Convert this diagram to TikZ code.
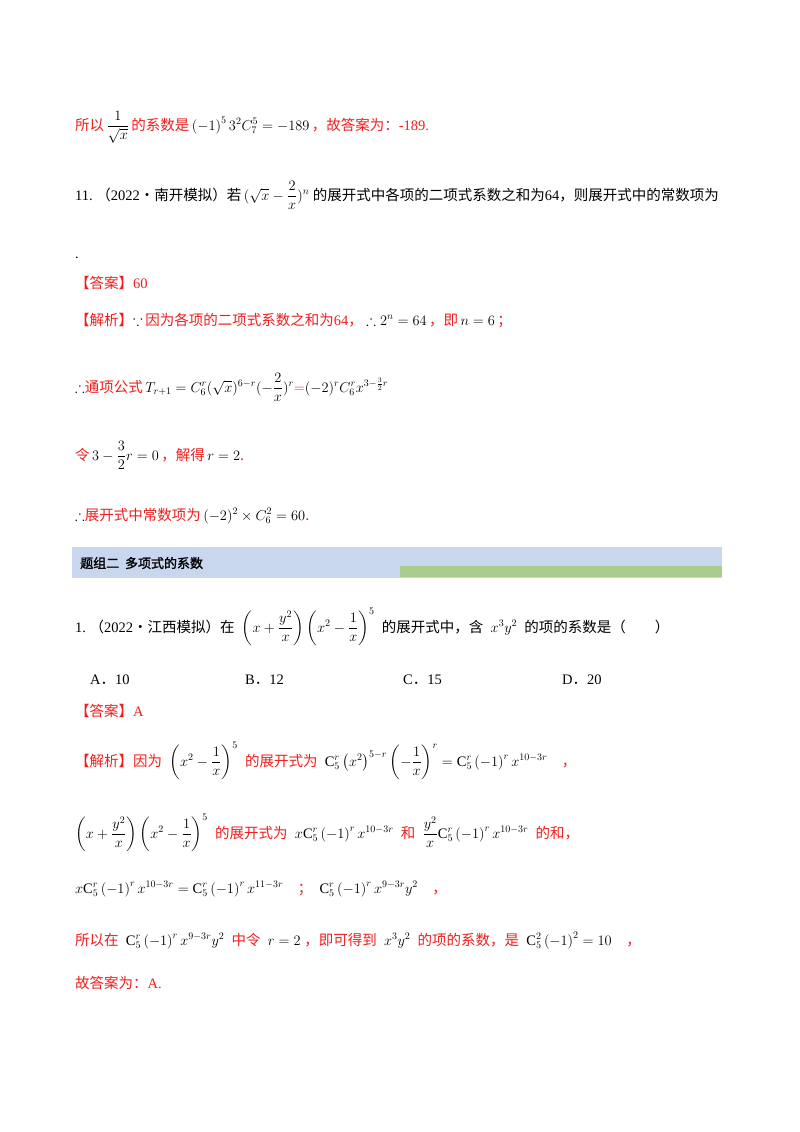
\documentclass[tikz,border=0pt]{standalone}
\usepackage{amsmath,amssymb}
\usepackage{fontspec}
\setmainfont{Liberation Serif}
\newfontfamily\cjk{Noto Sans CJK SC}
\newfontfamily\cjkb{Noto Sans CJK SC}[FakeBold=1.5]
\newcommand{\zh}[1]{{\cjk #1}}
\newcommand{\rz}[1]{{\color{myred}\cjk #1}}
\definecolor{myred}{RGB}{240,30,30}
\definecolor{band}{RGB}{200,214,238}
\definecolor{bandg}{RGB}{168,205,140}
\begin{document}
\begin{tikzpicture}[x=1pt,y=-1pt,
  line/.style={anchor=base west,inner sep=0pt,font=\fontsize{14.5}{17}\selectfont}]
\useasboundingbox (0,0) rectangle (800,1132);
\fill[white] (0,0) rectangle (800,1132);
\node[line] (l1) at (75,130) {\rz{所以}\,$\dfrac{1}{\sqrt{x}}$\,\rz{的系数是}\,$\left(-1\right)^5 3^2 C_7^5=-189$\,\rz{，故答案为：}{\color{myred}-189.}};
\node[line] (l2) at (75,200) {11.\ \zh{（}2022\zh{·南开模拟）若}\,$(\sqrt{x}-\dfrac{2}{x})^n$\ \zh{的展开式中各项的二项式系数之和为}64\zh{，则展开式中的常数项为}};
\node[line] (l3) at (75,258) {.};
\node[line] (l4) at (75,288) {\rz{【答案】}{\color{myred}60}};
\node[line] (l5) at (75,325) {\rz{【解析】}$\because$\,\rz{因为各项的二项式系数之和为}{\color{myred}64}\rz{，}$\ \therefore 2^n=64$\,\rz{，即}\,$n=6$\,\rz{；}};
\node[line] (l6) at (75,392) {$\therefore$\rz{通项公式}\,$T_{r+1}=C_6^r(\sqrt{x})^{6-r}(-\dfrac{2}{x})^r${\color{myred}$=$}$(-2)^rC_6^rx^{3-\frac{3}{2}r}$};
\node[line] (l7) at (75,460) {\rz{令}\,$3-\dfrac{3}{2}r=0$\,\rz{，解得}\,$r=2$\rz{.}};
\node[line] (l8) at (75,520) {$\therefore$\rz{展开式中常数项为}\,$(-2)^2\times C_6^2=60$\rz{.}};
\fill[band] (72,547) rectangle (722,578);
\fill[bandg] (400,566) rectangle (722,577);
\node[line,font=\fontsize{13}{16}\selectfont] (hd) at (80,568) {{\cjkb 题组二\ \ 多项式的系数}};
\node[line] (q1) at (75,632) {1.\ \zh{（}2022\zh{·江西模拟）在}\ \ $\left(x+\dfrac{y^2}{x}\right)\left(x^2-\dfrac{1}{x}\right)^5$\ \ \zh{的展开式中，含}\ \ $x^3y^2$\ \ \zh{的项的系数是（\qquad ）}};
\node[line] (oa) at (90,684) {A\zh{．}10};
\node[line] (ob) at (245,684) {B\zh{．}12};
\node[line] (oc) at (403,684) {C\zh{．}15};
\node[line] (od) at (562,684) {D\zh{．}20};
\node[line] (an) at (75,716) {\rz{【答案】}{\color{myred}A}};
\node[line] (s1) at (75,766) {\rz{【解析】因为}\ \ $\left(x^2-\dfrac{1}{x}\right)^5$\ \ \rz{的展开式为}\ \ $\mathrm{C}_5^r\left(x^2\right)^{5-r}\left(-\dfrac{1}{x}\right)^r=\mathrm{C}_5^r\left(-1\right)^rx^{10-3r}$\quad\rz{，}};
\node[line] (s2) at (75,838) {$\left(x+\dfrac{y^2}{x}\right)\left(x^2-\dfrac{1}{x}\right)^5$\ \ \rz{的展开式为}\ \ $x\mathrm{C}_5^r\left(-1\right)^rx^{10-3r}$\ \ \rz{和}\ \ $\dfrac{y^2}{x}\mathrm{C}_5^r\left(-1\right)^rx^{10-3r}$\ \ \rz{的和，}};
\node[line] (s3) at (75,893) {$x\mathrm{C}_5^r\left(-1\right)^rx^{10-3r}=\mathrm{C}_5^r\left(-1\right)^rx^{11-3r}$\quad\rz{；}\ \ $\mathrm{C}_5^r\left(-1\right)^rx^{9-3r}y^2$\quad\rz{，}};
\node[line] (s4) at (75,945) {\rz{所以在}\ \ $\mathrm{C}_5^r\left(-1\right)^rx^{9-3r}y^2$\ \ \rz{中令}\ \ $r=2$\ \rz{，即可得到}\ \ $x^3y^2$\ \ \rz{的项的系数，是}\ \ $\mathrm{C}_5^2\left(-1\right)^2=10$\quad\rz{，}};
\node[line] (s5) at (75,988) {\rz{故答案为：}{\color{myred}A.}};
\end{tikzpicture}
\end{document}
